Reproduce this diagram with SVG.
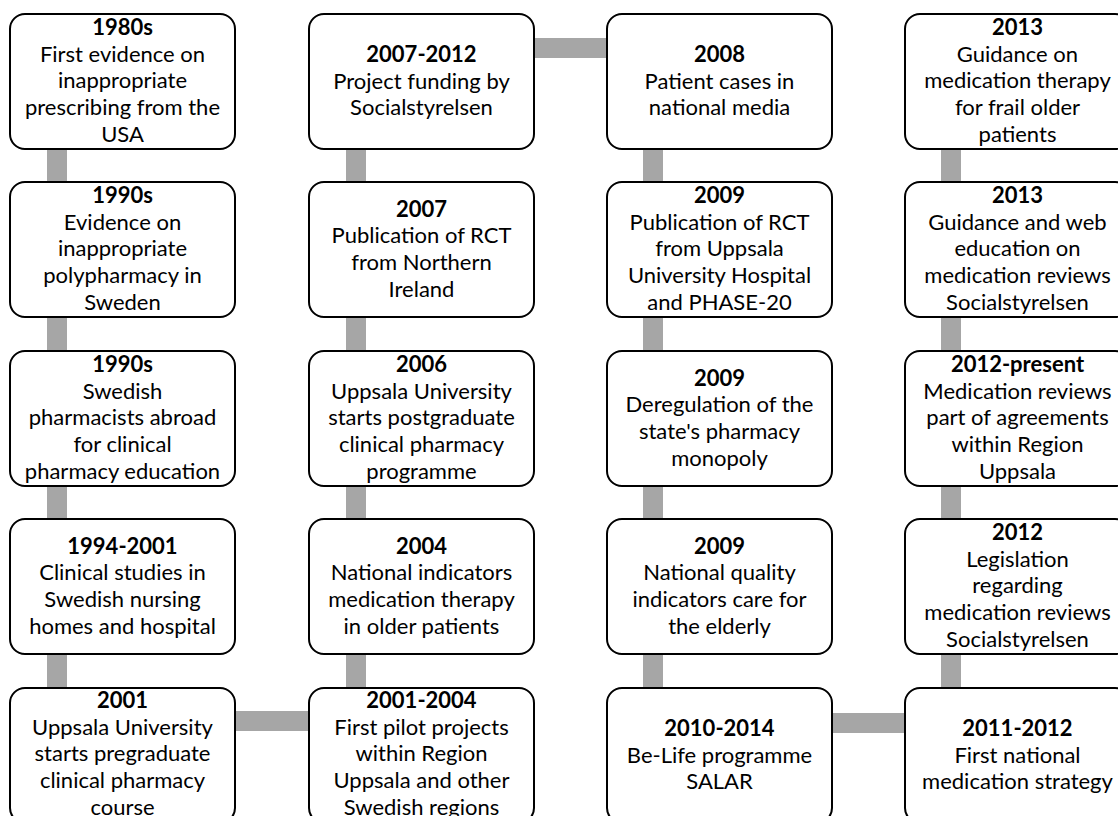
<svg xmlns="http://www.w3.org/2000/svg" width="1118" height="816" viewBox="0 0 1118 816">
<style>
.box{fill:#fff;stroke:#000;stroke-width:2}
.c{fill:#a6a6a6}
text{font-family:Lato,"Liberation Sans",sans-serif;font-size:22px;fill:#000;text-anchor:middle}
.y{font-weight:bold}
</style>
<rect width="1118" height="816" fill="#fff"/>
<g id="connectors">
<rect class="c" x="47" y="149" width="20" height="33"/>
<rect class="c" x="47" y="317" width="20" height="34"/>
<rect class="c" x="47" y="486" width="20" height="33"/>
<rect class="c" x="47" y="654" width="20" height="34"/>
<rect class="c" x="235" y="711" width="74" height="20"/>
<rect class="c" x="346" y="149" width="20" height="33"/>
<rect class="c" x="346" y="317" width="20" height="34"/>
<rect class="c" x="346" y="486" width="20" height="33"/>
<rect class="c" x="346" y="654" width="20" height="34"/>
<rect class="c" x="534" y="38" width="73" height="20"/>
<rect class="c" x="643" y="149" width="20" height="33"/>
<rect class="c" x="643" y="317" width="20" height="34"/>
<rect class="c" x="643" y="486" width="20" height="33"/>
<rect class="c" x="643" y="654" width="20" height="34"/>
<rect class="c" x="832" y="713" width="73" height="20"/>
<rect class="c" x="941" y="149" width="20" height="33"/>
<rect class="c" x="941" y="317" width="20" height="34"/>
<rect class="c" x="941" y="486" width="20" height="33"/>
<rect class="c" x="941" y="654" width="20" height="34"/>
</g>
<g id="n1980s"><rect class="box" x="10" y="14" width="225" height="135" rx="15"/><text x="122.5" y="35"><tspan class="y">1980s</tspan><tspan x="122.5" dy="26.7">First evidence on</tspan><tspan x="122.5" dy="26.7">inappropriate</tspan><tspan x="122.5" dy="26.7">prescribing from the</tspan><tspan x="122.5" dy="26.7">USA</tspan></text></g>
<g id="n1990a"><rect class="box" x="10" y="182" width="225" height="135" rx="15"/><text x="122.5" y="203"><tspan class="y">1990s</tspan><tspan x="122.5" dy="26.7">Evidence on</tspan><tspan x="122.5" dy="26.7">inappropriate</tspan><tspan x="122.5" dy="26.7">polypharmacy in</tspan><tspan x="122.5" dy="26.7">Sweden</tspan></text></g>
<g id="n1990b"><rect class="box" x="10" y="351" width="225" height="135" rx="15"/><text x="122.5" y="372"><tspan class="y">1990s</tspan><tspan x="122.5" dy="26.7">Swedish</tspan><tspan x="122.5" dy="26.7">pharmacists abroad</tspan><tspan x="122.5" dy="26.7">for clinical</tspan><tspan x="122.5" dy="26.7">pharmacy education</tspan></text></g>
<g id="n1994"><rect class="box" x="10" y="519" width="225" height="135" rx="15"/><text x="122.5" y="553.5"><tspan class="y">1994-2001</tspan><tspan x="122.5" dy="26.7">Clinical studies in</tspan><tspan x="122.5" dy="26.7">Swedish nursing</tspan><tspan x="122.5" dy="26.7">homes and hospital</tspan></text></g>
<g id="n2001"><rect class="box" x="10" y="688" width="225" height="135" rx="15"/><text x="122.5" y="708"><tspan class="y">2001</tspan><tspan x="122.5" dy="26.7">Uppsala University</tspan><tspan x="122.5" dy="26.7">starts pregraduate</tspan><tspan x="122.5" dy="26.7">clinical pharmacy</tspan><tspan x="122.5" dy="26.7">course</tspan></text></g>
<g id="n2007_2012"><rect class="box" x="309" y="14" width="225" height="135" rx="15"/><text x="421.5" y="61.8"><tspan class="y">2007-2012</tspan><tspan x="421.5" dy="26.7">Project funding by</tspan><tspan x="421.5" dy="26.7">Socialstyrelsen</tspan></text></g>
<g id="n2007"><rect class="box" x="309" y="182" width="225" height="135" rx="15"/><text x="421.5" y="216.5"><tspan class="y">2007</tspan><tspan x="421.5" dy="26.7">Publication of RCT</tspan><tspan x="421.5" dy="26.7">from Northern</tspan><tspan x="421.5" dy="26.7">Ireland</tspan></text></g>
<g id="n2006"><rect class="box" x="309" y="351" width="225" height="135" rx="15"/><text x="421.5" y="372"><tspan class="y">2006</tspan><tspan x="421.5" dy="26.7">Uppsala University</tspan><tspan x="421.5" dy="26.7">starts postgraduate</tspan><tspan x="421.5" dy="26.7">clinical pharmacy</tspan><tspan x="421.5" dy="26.7">programme</tspan></text></g>
<g id="n2004"><rect class="box" x="309" y="519" width="225" height="135" rx="15"/><text x="421.5" y="553.5"><tspan class="y">2004</tspan><tspan x="421.5" dy="26.7">National indicators</tspan><tspan x="421.5" dy="26.7">medication therapy</tspan><tspan x="421.5" dy="26.7">in older patients</tspan></text></g>
<g id="n2001_2004"><rect class="box" x="309" y="688" width="225" height="135" rx="15"/><text x="421.5" y="708"><tspan class="y">2001-2004</tspan><tspan x="421.5" dy="26.7">First pilot projects</tspan><tspan x="421.5" dy="26.7">within Region</tspan><tspan x="421.5" dy="26.7">Uppsala and other</tspan><tspan x="421.5" dy="26.7">Swedish regions</tspan></text></g>
<g id="n2008"><rect class="box" x="607" y="14" width="225" height="135" rx="15"/><text x="719.5" y="61.8"><tspan class="y">2008</tspan><tspan x="719.5" dy="26.7">Patient cases in</tspan><tspan x="719.5" dy="26.7">national media</tspan></text></g>
<g id="n2009a"><rect class="box" x="607" y="182" width="225" height="135" rx="15"/><text x="719.5" y="203"><tspan class="y">2009</tspan><tspan x="719.5" dy="26.7">Publication of RCT</tspan><tspan x="719.5" dy="26.7">from Uppsala</tspan><tspan x="719.5" dy="26.7">University Hospital</tspan><tspan x="719.5" dy="26.7">and PHASE-20</tspan></text></g>
<g id="n2009b"><rect class="box" x="607" y="351" width="225" height="135" rx="15"/><text x="719.5" y="385.5"><tspan class="y">2009</tspan><tspan x="719.5" dy="26.7">Deregulation of the</tspan><tspan x="719.5" dy="26.7">state's pharmacy</tspan><tspan x="719.5" dy="26.7">monopoly</tspan></text></g>
<g id="n2009c"><rect class="box" x="607" y="519" width="225" height="135" rx="15"/><text x="719.5" y="553.5"><tspan class="y">2009</tspan><tspan x="719.5" dy="26.7">National quality</tspan><tspan x="719.5" dy="26.7">indicators care for</tspan><tspan x="719.5" dy="26.7">the elderly</tspan></text></g>
<g id="n2010_2014"><rect class="box" x="607" y="688" width="225" height="135" rx="15"/><text x="719.5" y="735.8"><tspan class="y">2010-2014</tspan><tspan x="719.5" dy="26.7">Be-Life programme</tspan><tspan x="719.5" dy="26.7">SALAR</tspan></text></g>
<g id="n2013a"><rect class="box" x="905" y="14" width="225" height="135" rx="15"/><text x="1017.5" y="35"><tspan class="y">2013</tspan><tspan x="1017.5" dy="26.7">Guidance on</tspan><tspan x="1017.5" dy="26.7">medication therapy</tspan><tspan x="1017.5" dy="26.7">for frail older</tspan><tspan x="1017.5" dy="26.7">patients</tspan></text></g>
<g id="n2013b"><rect class="box" x="905" y="182" width="225" height="135" rx="15"/><text x="1017.5" y="203"><tspan class="y">2013</tspan><tspan x="1017.5" dy="26.7">Guidance and web</tspan><tspan x="1017.5" dy="26.7">education on</tspan><tspan x="1017.5" dy="26.7">medication reviews</tspan><tspan x="1017.5" dy="26.7">Socialstyrelsen</tspan></text></g>
<g id="n2012present"><rect class="box" x="905" y="351" width="225" height="135" rx="15"/><text x="1017.5" y="372"><tspan class="y">2012-present</tspan><tspan x="1017.5" dy="26.7">Medication reviews</tspan><tspan x="1017.5" dy="26.7">part of agreements</tspan><tspan x="1017.5" dy="26.7">within Region</tspan><tspan x="1017.5" dy="26.7">Uppsala</tspan></text></g>
<g id="n2012"><rect class="box" x="905" y="519" width="225" height="135" rx="15"/><text x="1017.5" y="540"><tspan class="y">2012</tspan><tspan x="1017.5" dy="26.7">Legislation</tspan><tspan x="1017.5" dy="26.7">regarding</tspan><tspan x="1017.5" dy="26.7">medication reviews</tspan><tspan x="1017.5" dy="26.7">Socialstyrelsen</tspan></text></g>
<g id="n2011_2012"><rect class="box" x="905" y="688" width="225" height="135" rx="15"/><text x="1017.5" y="735.8"><tspan class="y">2011-2012</tspan><tspan x="1017.5" dy="26.7">First national</tspan><tspan x="1017.5" dy="26.7">medication strategy</tspan></text></g>
</svg>
